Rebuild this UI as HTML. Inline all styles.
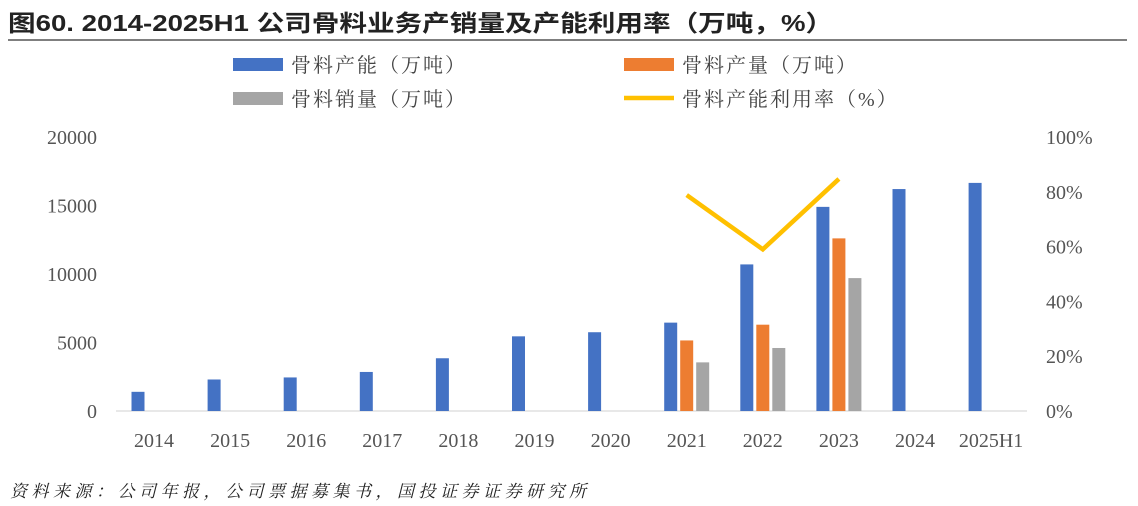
<!DOCTYPE html>
<html><head><meta charset="utf-8"><style>
body{margin:0;width:1138px;height:506px;background:#fff;overflow:hidden;font-family:"Liberation Serif","Noto Serif CJK SC",serif;}
#title{position:absolute;left:8px;top:4px;font:bold 23px "Liberation Sans","Noto Sans CJK SC",sans-serif;color:#222;white-space:nowrap;transform-origin:0 0;transform:scaleX(1.2)}
#src{position:absolute;left:10px;top:477px;font:italic 17px "Liberation Serif","Noto Serif CJK SC",serif;color:#222;letter-spacing:4.5px;white-space:nowrap}
</style></head><body>
<div id="title">图60. 2014-2025H1 公司骨料业务产销量及产能利用率（万吨，%）</div>
<svg id="c" width="1138" height="506" style="position:absolute;left:0;top:0"></svg>
<div id="src">资料来源：公司年报，公司票据募集书，国投证券证券研究所</div>
<script>
const categories=["2014","2015","2016","2017","2018","2019","2020","2021","2022","2023","2024","2025H1"];
const capacity=[1400,2300,2450,2850,3850,5450,5750,6450,10700,14900,16200,16650];
const production=[null,null,null,null,null,null,null,5150,6300,12600,null,null];
const sales=[null,null,null,null,null,null,null,3550,4600,9700,null,null];
const utilization=[null,null,null,null,null,null,null,78.8,59,84.7,null,null];
const leftTicks=[0,5000,10000,15000,20000];
const rightTicks=[0,20,40,60,80,100];
const svg=document.getElementById('c');const NS='http://www.w3.org/2000/svg';
function el(t,a,txt){const e=document.createElementNS(NS,t);for(const k in a)e.setAttribute(k,a[k]);if(txt!=null)e.textContent=txt;svg.appendChild(e);return e;}
const y0=411,yTop=137;
const yL=v=>y0-(v/20000)*(y0-yTop);
const yR=v=>y0-(v/100)*(y0-yTop);
const xC=i=>154+i*76.1;
let e;
e=el('line',{x1:8,y1:40,x2:1127,y2:40,stroke:'#555','stroke-width':1.5});

leftTicks.forEach(v=>{e=el('text',{x:97,y:yL(v)+7,'text-anchor':'end','font-size':20,fill:'#555'},v);
});
rightTicks.forEach(v=>{e=el('text',{x:1046,y:yR(v)+7,'font-size':20,fill:'#555'},v+'%');
});
e=el('line',{x1:116,y1:y0,x2:1027,y2:y0,stroke:'#d0d0d0','stroke-width':1});

categories.forEach((c,i)=>{
 e=el('text',{x:xC(i),y:447,'text-anchor':'middle','font-size':20,fill:'#555'},c);
 
 [[capacity,-16,'#4472c4','bar-capacity'],[production,0,'#ed7d31','bar-production'],[sales,16,'#a5a5a5','bar-sales']].forEach(([arr,off,col,nm])=>{
  const v=arr[i];if(v==null)return;
  e=el('rect',{x:xC(i)+off-6.5,y:yL(v),width:13,height:y0-yL(v),fill:col});
  
 });
});
let pts=[];utilization.forEach((v,i)=>{if(v!=null)pts.push(xC(i)+','+yR(v));});
e=el('polyline',{points:pts.join(' '),fill:'none',stroke:'#ffc000','stroke-width':4.5,'stroke-linejoin':'miter'});

const leg=[[233,64,'rect','#4472c4','骨料产能（万吨）'],[624,64,'rect','#ed7d31','骨料产量（万吨）'],[233,98,'rect','#a5a5a5','骨料销量（万吨）'],[624,98,'line','#ffc000','骨料产能利用率（%）']];
leg.forEach(([x,y,t,col,lab])=>{
 if(t==='rect')e=el('rect',{x:x,y:y-6,width:50,height:13,fill:col});
 else e=el('line',{x1:x,y1:y,x2:x+50,y2:y,stroke:col,'stroke-width':4.5});
 
 e=el('text',{x:x+58,y:y+8,'font-size':20,'letter-spacing':2,fill:'#444'},lab);
 
});
</script>
</body></html>
